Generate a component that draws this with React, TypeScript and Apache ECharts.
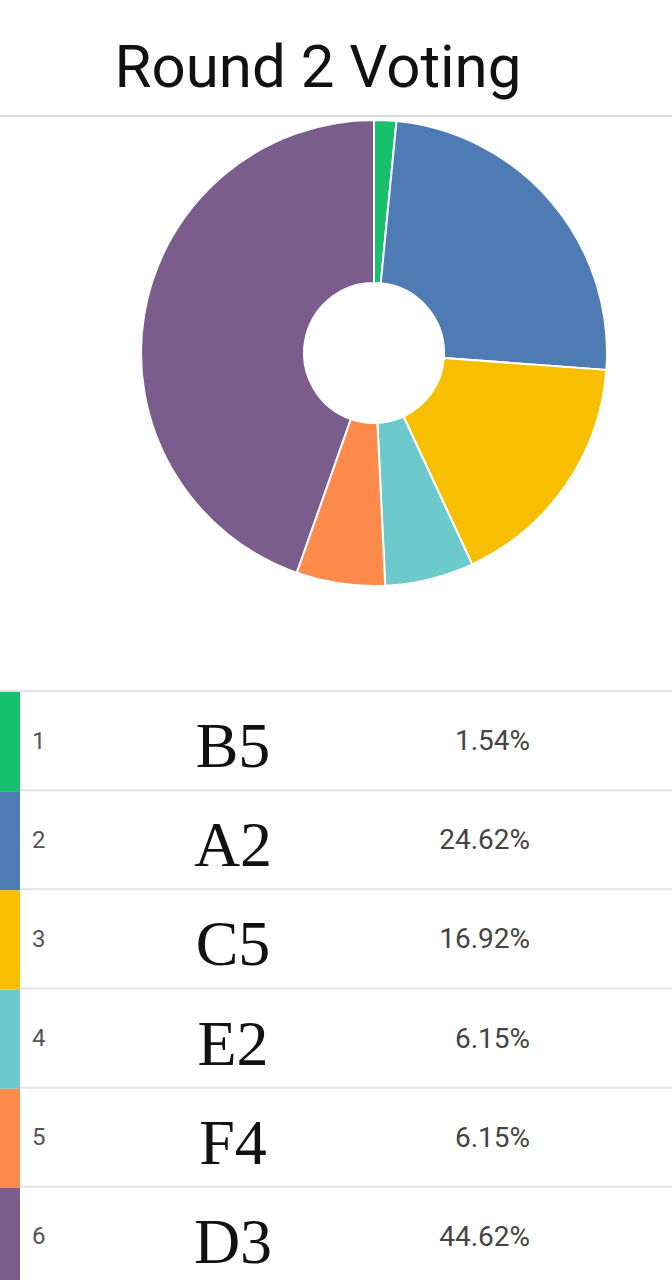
import React, { useEffect, useRef } from "react";
import * as echarts from "echarts";

const names = ["B5", "A2", "C5", "E2", "F4", "D3"];
const votes = [1, 16, 11, 4, 4, 29];
const colors = ["#17C06D", "#4E7BB4", "#F7BF00", "#6CC9CC", "#FE8A4C", "#7B5D8D"];
const titleText = "Round 2 Voting";

export default function App() {
  const ref = useRef<HTMLDivElement>(null);
  useEffect(() => {
    document.body.style.margin = "0";
    document.body.style.overflow = "hidden";
    document.documentElement.style.overflow = "hidden";
    const chart = echarts.init(ref.current!, null, { renderer: "svg" });
    const total = votes.reduce((a, b) => a + b, 0);
    const pct = votes.map((v) => ((v / total) * 100).toFixed(2) + "%");
    chart.setOption({
      animation: false,
      backgroundColor: "#ffffff",
      graphic: [
        {
          type: "text",
          x: 318,
          y: 66,
          style: {
            text: titleText,
            fontSize: 60,
            fontFamily: "Roboto",
            fill: "#111111",
            align: "center",
            verticalAlign: "middle",
          },
        },
        {
          type: "line",
          shape: { x1: 0, y1: 116, x2: 672, y2: 116 },
          style: { stroke: "#dddddd", lineWidth: 2 },
        },
      ],
      grid: { left: 0, top: 691, width: 672, height: 595 },
      xAxis: { type: "value", min: 0, max: 672, show: false },
      yAxis: { type: "category", data: names, inverse: true, show: false },
      series: [
        {
          type: "pie",
          center: [374, 353],
          radius: [70, 233],
          startAngle: 90,
          clockwise: true,
          label: { show: false },
          labelLine: { show: false },
          itemStyle: { borderColor: "#ffffff", borderWidth: 2 },
          data: names.map((n, i) => ({ name: n, value: votes[i], itemStyle: { color: colors[i] } })),
        },
        {
          type: "custom",
          coordinateSystem: "cartesian2d",
          encode: { x: 0, y: 1 },
          data: names.map((n, i) => [0, i]),
          renderItem: (params: any, api: any) => {
            const idx = api.value(1);
            const c = api.coord([0, idx]);
            const bandH = api.size([0, 1])[1];
            const top = c[1] - bandH / 2;
            const cy = c[1];
            return {
              type: "group",
              children: [
                {
                  type: "rect",
                  shape: { x: 0, y: top + 1, width: 20, height: bandH },
                  style: { fill: colors[idx] },
                },
                {
                  type: "line",
                  shape: { x1: idx === 0 ? 0 : 20, y1: top, x2: 672, y2: top },
                  style: { stroke: "#e2e2e2", lineWidth: 2 },
                },
                {
                  type: "text",
                  x: 32,
                  y: cy,
                  style: {
                    text: String(idx + 1),
                    fontSize: 24,
                    fontFamily: "Roboto",
                    fill: "#555555",
                    align: "left",
                    verticalAlign: "middle",
                  },
                },
                {
                  type: "text",
                  x: 233,
                  y: cy + 5,
                  style: {
                    text: names[idx],
                    fontSize: 64,
                    fontFamily: "Liberation Serif",
                    fill: "#111111",
                    align: "center",
                    verticalAlign: "middle",
                  },
                },
                {
                  type: "text",
                  x: 530,
                  y: cy,
                  style: {
                    text: pct[idx],
                    fontSize: 28,
                    fontFamily: "Roboto",
                    fill: "#444444",
                    align: "right",
                    verticalAlign: "middle",
                  },
                },
              ],
            };
          },
        },
      ],
    });
    return () => chart.dispose();
  }, []);
  return <div ref={ref} style={{ width: 672, height: 1286 }} />;
}
